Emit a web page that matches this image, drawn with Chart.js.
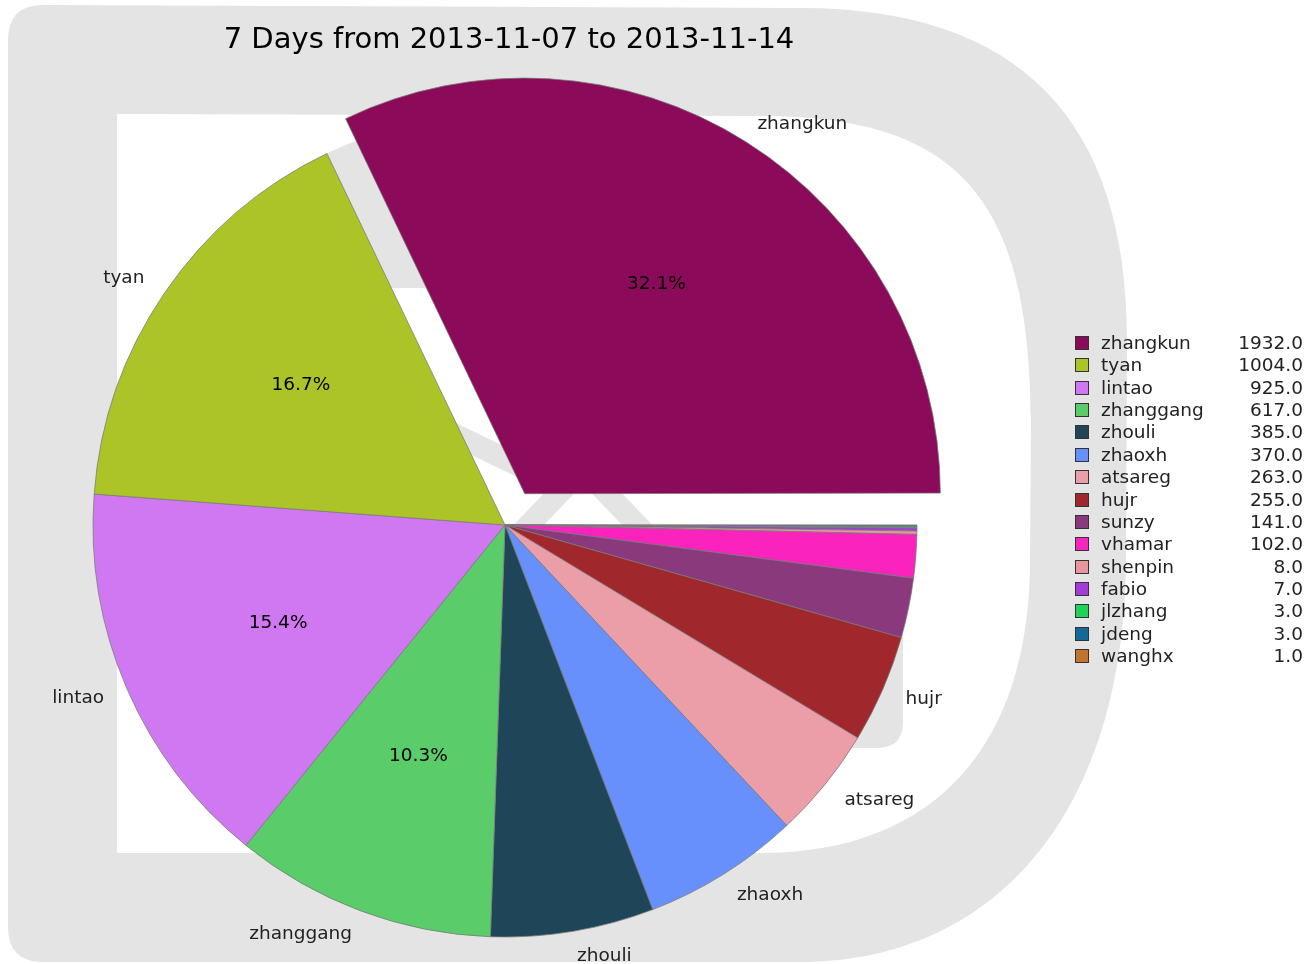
<!DOCTYPE html>
<html>
<head>
<meta charset="utf-8">
<title>7 Days from 2013-11-07 to 2013-11-14</title>
<script src="https://cdn.jsdelivr.net/npm/chart.js@4.4.1/dist/chart.umd.min.js"></script>
<style>
  body { margin: 0; background: #fff; font-family: "DejaVu Sans", sans-serif; }
  #wrap { position: relative; width: 1308px; height: 964px; overflow: hidden; }
  #chartBox { position: absolute; left: 0; top: 0; width: 1308px; height: 964px; }
  #title { position: absolute; left: 0; width: 1018px; top: 19px; line-height: 38px;
           text-align: center; font-size: 29px; color: #000; }
  #legend { position: absolute; left: 1075px; top: 332px; width: 228px;
            font-size: 18.5px; color: #222; }
  .row { position: relative; height: 22.36px; line-height: 22.36px; }
  .sw { position: absolute; left: 0; top: 4px; width: 12px; height: 12px; border: 1px solid #333; }
  .nm { position: absolute; left: 26px; }
  .val { position: absolute; right: 0; }
</style>
</head>
<body>
<div id="wrap">
  <div id="chartBox"><canvas id="pie"></canvas></div>
  <div id="title">7 Days from 2013-11-07 to 2013-11-14</div>
  <div id="legend"></div>
</div>
<script>
// commits per author, legend order
const authors = ['zhangkun', 'tyan', 'lintao', 'zhanggang', 'zhouli', 'zhaoxh', 'atsareg', 'hujr',
                 'sunzy', 'vhamar', 'shenpin', 'fabio', 'jlzhang', 'jdeng', 'wanghx'];
const commits = [1932, 1004, 925, 617, 385, 370, 263, 255, 141, 102, 8, 7, 3, 3, 1];
const palette = ['#8b0a59', '#acc428', '#d078f2', '#5acc6a', '#1e4658', '#6890fc', '#ec9ea8', '#a0282d',
                 '#8a3a7c', '#fa23be', '#e8969c', '#a43ad8', '#1ed25a', '#166896', '#c0742e'];

const EXPLODE = 37;   // px the biggest slice is pulled out
const total = commits.reduce((a, b) => a + b, 0);

// matplotlib goes counter-clockwise from 3 o'clock, chart.js clockwise -> feed it reversed
const order = authors.map((_, i) => i).reverse();

// legend
const legend = document.getElementById('legend');
authors.forEach((name, i) => {
  legend.innerHTML +=
    `<div class="row"><span class="sw" style="background:${palette[i]}"></span>` +
    `<span class="nm">${name}</span><span class="val">${commits[i].toFixed(1)}</span></div>`;
});

function drawWatermark(ctx) {
  ctx.save();
  ctx.fillStyle = '#e4e4e4';
  ctx.beginPath();
  // outer outline of the big "D"
  ctx.moveTo(8, 40);
  ctx.quadraticCurveTo(8, 5, 43, 5);
  ctx.lineTo(800, 8);
  ctx.bezierCurveTo(1020, 8, 1127, 120, 1127, 340);
  ctx.lineTo(1126, 560);
  ctx.bezierCurveTo(1124, 820, 990, 962, 800, 962);
  ctx.lineTo(43, 962);
  ctx.quadraticCurveTo(8, 962, 8, 927);
  ctx.closePath();
  // hole
  ctx.moveTo(117, 114);
  ctx.lineTo(760, 116);
  ctx.bezierCurveTo(960, 116, 1030, 200, 1031, 420);
  ctx.lineTo(1030, 560);
  ctx.bezierCurveTo(1030, 740, 940, 853, 760, 853);
  ctx.lineTo(117, 853);
  ctx.closePath();
  ctx.fill('evenodd');

  // little hook peeking out beside hujr
  const x = 800, y = 600, w = 103, h = 148, r = 26;
  ctx.beginPath();
  ctx.moveTo(x + r, y);
  ctx.lineTo(x + w - r, y);
  ctx.quadraticCurveTo(x + w, y, x + w, y + r);
  ctx.lineTo(x + w, y + h - r);
  ctx.quadraticCurveTo(x + w, y + h, x + w - r, y + h);
  ctx.lineTo(x + r, y + h);
  ctx.quadraticCurveTo(x, y + h, x, y + h - r);
  ctx.lineTo(x, y + r);
  ctx.quadraticCurveTo(x, y, x + r, y);
  ctx.fill();

  // bits seen through the gap of the exploded slice
  ctx.beginPath();
  ctx.arc(505, 525, 412, 0, Math.PI * 2);
  ctx.clip();
  ctx.fillRect(280, 100, 220, 188);
  ctx.strokeStyle = '#e4e4e4';
  ctx.lineWidth = 22;
  ctx.beginPath();
  ctx.moveTo(445, 430); ctx.lineTo(528, 470);
  ctx.moveTo(522, 532); ctx.lineTo(572, 480);
  ctx.moveTo(594, 480); ctx.lineTo(644, 532);
  ctx.stroke();
  ctx.restore();
}

const watermark = {
  id: 'watermark',
  beforeDatasetsDraw(chart) { drawWatermark(chart.ctx); }
};

const sliceLabels = {
  id: 'sliceLabels',
  afterDatasetsDraw(chart) {
    const ctx = chart.ctx;
    const meta = chart.getDatasetMeta(0);
    ctx.save();
    ctx.font = '18.5px "DejaVu Sans"';
    ctx.textBaseline = 'middle';
    meta.data.forEach((arc, j) => {
      const i = order[j];
      const share = commits[i] / total;
      const p = arc.getProps(['x', 'y', 'startAngle', 'endAngle', 'outerRadius'], true);
      const mid = (p.startAngle + p.endAngle) / 2;
      const shift = (arc.options.offset || 0) / 4;
      const cx = p.x + Math.cos(mid) * shift;
      const cy = p.y + Math.sin(mid) * shift;
      if (share >= 0.03) {
        const lx = cx + Math.cos(mid) * p.outerRadius * 1.06;
        const ly = cy + Math.sin(mid) * p.outerRadius * 1.06;
        ctx.fillStyle = '#222';
        ctx.textAlign = Math.cos(mid) > 0 ? 'left' : 'right';
        ctx.fillText(authors[i], lx, ly);
      }
      if (share >= 0.1) {
        ctx.fillStyle = '#000';
        ctx.textAlign = 'center';
        ctx.fillText((share * 100).toFixed(1) + '%',
          cx + Math.cos(mid) * p.outerRadius * 0.6,
          cy + Math.sin(mid) * p.outerRadius * 0.6);
      }
    });
    ctx.restore();
  }
};

new Chart(document.getElementById('pie'), {
  type: 'pie',
  data: {
    labels: order.map(i => authors[i]),
    datasets: [{
      data: order.map(i => commits[i]),
      backgroundColor: order.map(i => palette[i]),
      borderColor: 'rgba(120,120,120,0.75)',
      borderWidth: 1,
      offset: order.map(i => (i === 0 ? EXPLODE * 4 : 0)),
      hoverOffset: 0,
      clip: false
    }]
  },
  options: {
    responsive: true,
    maintainAspectRatio: false,
    animation: false,
    events: [],
    rotation: 90,
    radius: 412,
    layout: { padding: { left: 0, right: 298, top: 86, bottom: 0 } },
    plugins: {
      legend: { display: false },
      tooltip: { enabled: false }
    }
  },
  plugins: [watermark, sliceLabels]
});
</script>
</body>
</html>
